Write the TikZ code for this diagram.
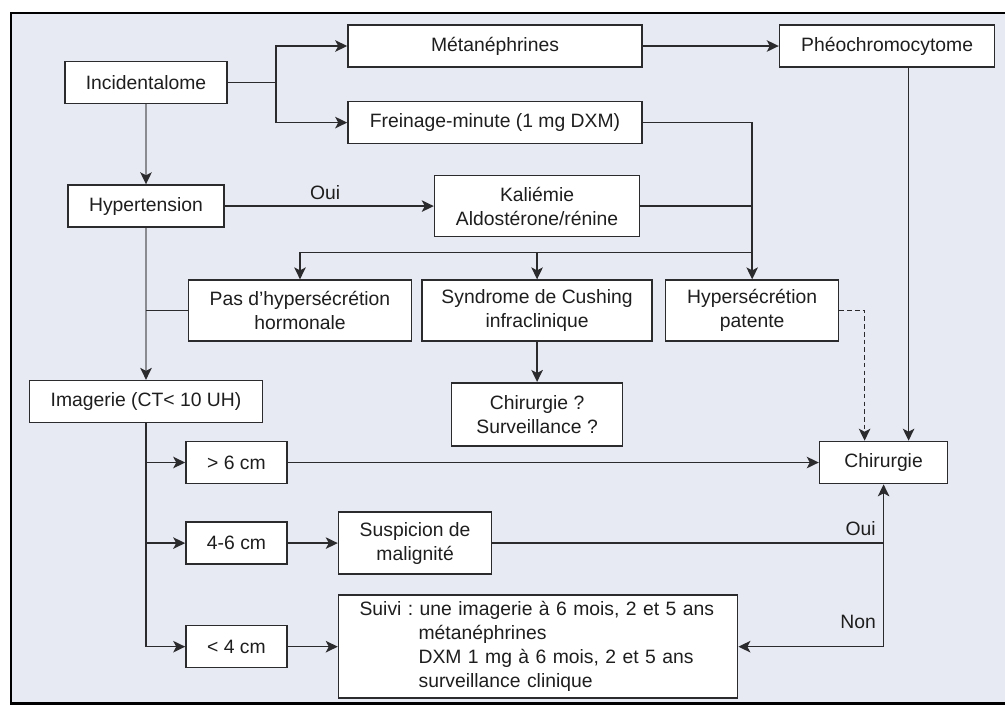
\documentclass[tikz,border=0pt]{standalone}
\usepackage{fontspec}
\setmainfont{Liberation Sans}
\usetikzlibrary{arrows.meta,positioning,calc}
\definecolor{fdbleu}{HTML}{E8EAF3}
\definecolor{trnoir}{HTML}{2B2B2E}
\definecolor{trgris}{HTML}{8A8B91}
\definecolor{txnoir}{HTML}{1E1E1E}

\begin{document}
\begin{tikzpicture}[
  node distance=1.0cm,
  boite/.style={rectangle,draw=trnoir,fill=white,line width=0.9pt,
    minimum height=0.84cm,inner sep=2pt,align=center,text=txnoir,
    font=\fontsize{11}{13.7}\selectfont\frenchspacing},
  boite2/.style={boite,minimum height=1.22cm},
  fl/.style={-{Stealth[length=2.4mm,width=2.3mm,inset=0.6mm]},line width=0.9pt,draw=trnoir},
  ln/.style={line width=0.9pt,draw=trnoir},
  flg/.style={fl,draw=trgris,-{Stealth[length=2.4mm,width=2.3mm,inset=0.6mm,color=trnoir]}},
  lbl/.style={font=\fontsize{11}{13}\selectfont,text=txnoir}]
  \useasboundingbox (0,0) rectangle (20.1,-14.1);
  % cadre
  \fill[fdbleu] (0.22,-0.26) rectangle (20.1,-14.07);
  \draw[line width=1.3pt,black] (20.1,-0.26) -- (0.22,-0.26) -- (0.22,-14.07) -- (20.1,-14.07);
  % colonne de gauche
  \node[boite,minimum width=3.24cm] (inc) at (2.92,-1.65) {Incidentalome};
  \node[boite,minimum width=3.12cm,below=1.6cm of inc] (hta) {Hypertension};
  \node[boite,minimum width=4.66cm,below=3.04cm of hta] (imag) {Imagerie (CT< 10 UH)};
  % bilan hormonal
  \node[boite,minimum width=5.88cm] (meta) at (9.9,-0.92) {Métanéphrines};
  \node[boite,minimum width=5.88cm,below=0.66cm of meta] (frein) {Freinage-minute (1 mg DXM)};
  \node[boite,minimum width=4.3cm,right=2.72cm of meta] (pheo) {Phéochromocytome};
  \node[boite2,minimum width=4.1cm,right=4.18cm of hta] (kal) {Kaliémie\\Aldostérone/rénine};
  \node[boite2,minimum width=4.6cm,below=0.84cm of kal] (cush) {Syndrome de Cushing\\infraclinique};
  \node[boite2,minimum width=4.46cm,left=0.18cm of cush] (pas) {Pas d'hypersécrétion\\hormonale};
  \node[boite2,minimum width=3.46cm,right=0.24cm of cush] (patente) {Hypersécrétion\\patente};
  \node[boite2,minimum width=3.42cm,minimum height=1.26cm,below=0.8cm of cush] (chirq) {Chirurgie ?\\Surveillance ?};
  % taille de la masse
  \node[boite,minimum width=2.02cm] (g6) at (4.73,-9.25) {> 6 cm};
  \node[boite,minimum width=2.02cm,below=0.74cm of g6] (m46) {4-6 cm};
  \node[boite,minimum width=2.02cm,below=1.2cm of m46] (l4) {< 4 cm};
  \node[boite,minimum width=2.56cm,right=10.62cm of g6] (chir) {Chirurgie};
  \node[boite2,minimum width=3.06cm,minimum height=1.24cm,right=1.0cm of m46] (susp) {Suspicion de\\malignité};
  \node[boite,minimum height=2.06cm,text width=7.4cm,inner xsep=0.29cm,inner ysep=3.4pt,
    align=left,right=1.0cm of l4] (suivi) {\hspace*{0.13cm}Suivi : une imagerie à 6 mois, 2 et 5 ans\\
    \hspace*{1.31cm}métanéphrines\\
    \hspace*{1.31cm}DXM 1 mg à 6 mois, 2 et 5 ans\\
    \hspace*{1.31cm}surveillance clinique};
  % bilan initial
  \draw[ln] (inc.east) -- ++(0.96,0) coordinate (jinc);
  \draw[fl] (jinc) |- (meta.west);
  \draw[fl] (jinc) |- (frein.west);
  \draw[fl] (meta.east) -- (pheo.west);
  \draw[flg] (inc.south) -- (hta.north);
  \draw[fl] (hta.east) -- node[lbl,above,pos=0.48]{Oui} (kal.west);
  % resultats hormonaux
  \coordinate[above=0.54cm of patente.north] (bus);
  \draw[fl] (frein.east) -| (patente.north);
  \draw[ln] (kal.east) -- (kal.east -| patente.north);
  \draw[fl] (bus) -| (pas.north);
  \draw[fl] (bus -| cush.north) -- (cush.north);
  \draw[fl] (cush.south) -- (chirq.north);
  \draw[flg] (hta.south) -- (imag.north);
  \draw[ln] (pas.west) -- (pas.west -| hta.south);
  % vers la chirurgie
  \coordinate (chirR) at ($(chir.north)+(0.5,0)$);
  \coordinate (chirL) at ($(chir.north)+(-0.38,0)$);
  \draw[fl] (pheo.south -| chirR) -- (chirR);
  \draw[fl,dash pattern=on 2.6pt off 1.8pt] (patente.east) -| (chirL);
  % suivant la taille
  \draw[fl] (imag.south) |- (g6.west);
  \draw[fl] (imag.south) |- (m46.west);
  \draw[fl] (imag.south) |- (l4.west);
  \draw[fl] (g6.east) -- (chir.west);
  \draw[fl] (m46.east) -- (susp.west);
  \draw[fl] (l4.east) -- (suivi.west);
  \draw[fl] (susp.east) -| node[lbl,pos=0.5,above left,inner sep=4pt]{Oui} (chir.south);
  \draw[fl] (susp.east -| chir.south) |- node[lbl,pos=0.38,left,inner sep=4pt]{Non} (suivi.east);
\end{tikzpicture}
\end{document}
